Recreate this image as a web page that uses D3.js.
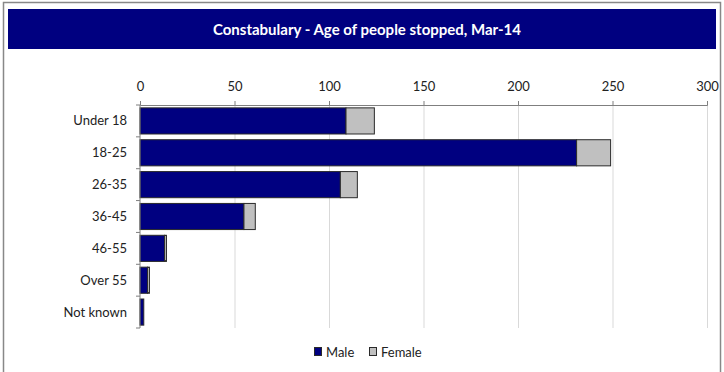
<!DOCTYPE html>
<html lang="en">
  <head>
    <meta charset="utf-8">
    <title>Age of people stopped</title>
    <script type="text/javascript" src="https://d3js.org/d3.v7.min.js"></script>
    <style type="text/css">
    body { margin: 0; background: white; }
    text { font-family: "Lato", "Open Sans", sans-serif; }
    .axist text { font-size: 13px; fill: #222; }
    .axisl text { font-size: 13px; fill: #222; }
    .axist path, .axist line, .axisl path, .axisl line { stroke: #7f7f7f; }
    </style>
  </head>
  <body>
    <svg width="724" height="372" id="svg1"></svg>
    <script type="text/javascript">

    const ageGroups = ["Under 18", "18-25", "26-35", "36-45", "46-55", "Over 55", "Not known"];
    const male = [109, 231, 106, 55, 13, 4, 2];
    const female = [15, 18, 9, 6, 1, 1, 0];
    const xTicks = [0, 50, 100, 150, 200, 250, 300];
    const seriesNames = ["Male", "Female"];
    const seriesColors = ["#000080", "#c0c0c0"];

    const plotL = 140, plotR = 707, plotT = 105, plotB = 328;

    const svg = d3.select("#svg1");

    // frame
    svg.append("rect")
        .attr("x", 3.5).attr("y", 2.5)
        .attr("width", 717).attr("height", 380)
        .attr("fill", "white")
        .attr("stroke", "#888")
        .attr("stroke-width", 1.5);

    // title band
    svg.append("rect")
        .attr("x", 8).attr("y", 9)
        .attr("width", 708).attr("height", 40)
        .attr("fill", "#000080");

    svg.append("text")
        .attr("x", 367).attr("y", 35)
        .attr("text-anchor", "middle")
        .attr("fill", "white")
        .attr("font-size", "15px")
        .attr("font-weight", "bold")
        .text("Constabulary - Age of people stopped, Mar-14");

    const xScale = d3.scaleLinear()
        .domain([0, 300])
        .range([plotL, plotR]);

    const yScale = d3.scaleBand()
        .domain(ageGroups)
        .range([plotT, plotB])
        .paddingInner(0.18)
        .paddingOuter(0.09);

    const yEdge = d3.scaleBand()
        .domain(ageGroups)
        .range([plotT, plotB]);

    // gridlines
    svg.append("g")
        .selectAll("line")
        .data(xTicks.slice(1))
        .enter()
        .append("line")
        .attr("x1", d => xScale(d) + 0.5)
        .attr("x2", d => xScale(d) + 0.5)
        .attr("y1", plotT)
        .attr("y2", plotB)
        .attr("stroke", "#d9d9d9")
        .attr("stroke-width", 1);

    const stacked = ageGroups.map((g, i) => ({
        group: g,
        segs: [
          {name: "Male", x0: 0, x1: male[i], color: seriesColors[0]},
          {name: "Female", x0: male[i], x1: male[i] + female[i], color: seriesColors[1]}
        ]
    }));

    svg.append("g")
        .selectAll("g")
        .data(stacked)
        .enter()
        .append("g")
        .selectAll("rect")
        .data(d => d.segs.filter(s => s.x1 > s.x0).map(s => Object.assign({group: d.group}, s)))
        .enter()
        .append("rect")
        .attr("x", d => xScale(d.x0))
        .attr("y", d => yScale(d.group))
        .attr("width", d => xScale(d.x1) - xScale(d.x0))
        .attr("height", yScale.bandwidth())
        .attr("fill", d => d.color)
        .attr("stroke", "#2a2a2a")
        .attr("stroke-width", 1);

    // top axis
    const topAxis = d3.axisTop(xScale)
        .tickValues(xTicks)
        .tickSize(4)
        .tickPadding(10);

    svg.append("g")
        .attr("class", "axist")
        .attr("transform", "translate(0," + plotT + ")")
        .call(topAxis);

    // left axis: ticks at band edges
    const leftG = svg.append("g").attr("class", "axisl");

    leftG.append("line")
        .attr("x1", plotL).attr("x2", plotL)
        .attr("y1", plotT).attr("y2", plotB)
        .attr("stroke", "#7f7f7f");

    leftG.selectAll("line.tk")
        .data(ageGroups.concat(["end"]))
        .enter()
        .append("line")
        .attr("class", "tk")
        .attr("x1", plotL - 4).attr("x2", plotL)
        .attr("y1", (d, i) => plotT + i * yEdge.bandwidth())
        .attr("y2", (d, i) => plotT + i * yEdge.bandwidth())
        .attr("stroke", "#7f7f7f");

    leftG.selectAll("text")
        .data(ageGroups)
        .enter()
        .append("text")
        .attr("x", plotL - 13)
        .attr("y", d => yEdge(d) + yEdge.bandwidth() / 2)
        .attr("dy", "0.35em")
        .attr("text-anchor", "end")
        .text(d => d);

    // legend
    const legend = svg.append("g")
        .attr("transform", "translate(314,347)");

    const legItems = legend.selectAll("g")
        .data(seriesNames)
        .enter()
        .append("g")
        .attr("transform", (d, i) => "translate(" + (i * 55) + ",0)");

    legItems.append("rect")
        .attr("x", 0.5).attr("y", 0.5)
        .attr("width", 7).attr("height", 8)
        .attr("fill", (d, i) => seriesColors[i])
        .attr("stroke", "#2a2a2a");

    legItems.append("text")
        .attr("x", 12)
        .attr("y", 5)
        .attr("dy", "0.35em")
        .attr("font-size", "13px")
        .attr("fill", "#222")
        .text(d => d);

    </script>
  </body>
</html>
